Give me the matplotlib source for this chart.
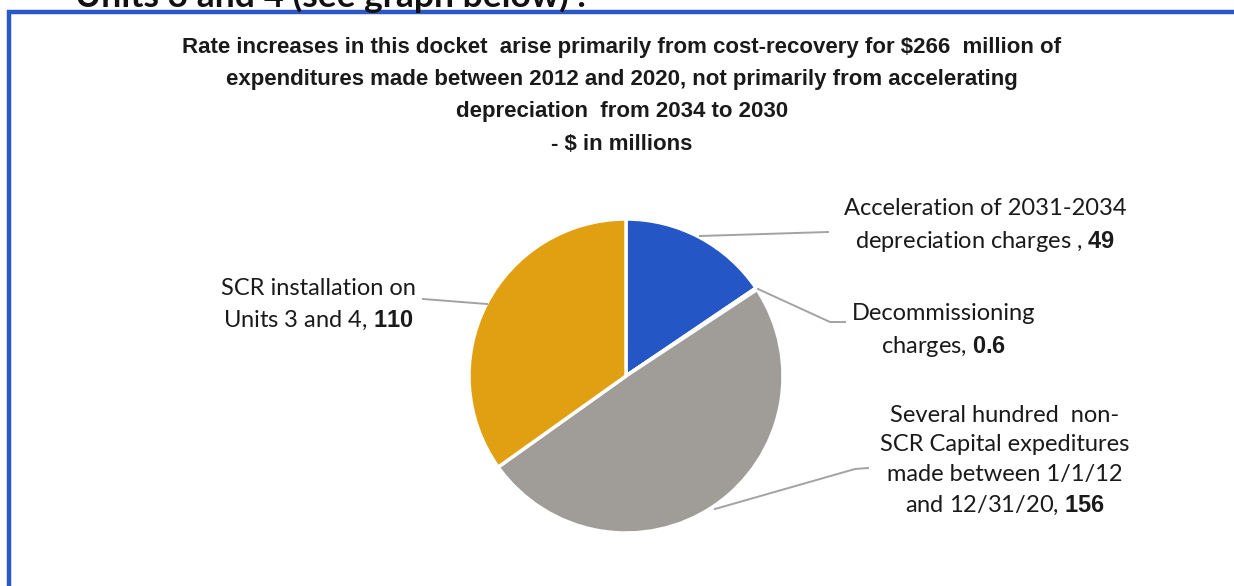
import matplotlib.pyplot as plt
from matplotlib.patches import Rectangle
import numpy as np

plt.rcParams['mathtext.fontset'] = 'custom'
plt.rcParams['mathtext.bf'] = 'Liberation Sans:bold'
plt.rcParams['mathtext.rm'] = 'Lato'

# slices, clockwise from 12 o'clock
categories = ['Acceleration of 2031-2034 depreciation charges',
              'Decommissioning charges',
              'Several hundred non-SCR Capital expeditures made between 1/1/12 and 12/31/20',
              'SCR installation on Units 3 and 4']
values = [49, 0.6, 156, 110]
colors = ['#2456c6', '#a5a29c', '#a09d98', '#e1a012']

title = ('Rate increases in this docket  arise primarily from cost-recovery for $266  million of\n'
         'expenditures made between 2012 and 2020, not primarily from accelerating\n'
         'depreciation  from 2034 to 2030\n'
         '- $ in millions')

W, H = 1234, 586
def Y(y):
    return H - y

fig = plt.figure(figsize=(W / 100, H / 100), dpi=100)
fig.patch.set_facecolor('white')
ax = fig.add_axes([0, 0, 1, 1])

ax.pie(values, colors=colors, startangle=90, counterclock=False,
       center=(626, Y(376)), radius=157,
       wedgeprops=dict(edgecolor='white', linewidth=2.5))
ax.set_xlim(0, W)
ax.set_ylim(0, H)
ax.set_aspect('equal')
ax.axis('off')

# frame of the document box
ax.add_patch(Rectangle((8.5, -20), W + 20, Y(11.5) + 20, fill=False,
                       edgecolor='#2a58c8', lw=3.2, clip_on=True))

# text above the box (cut off by the page edge)
ax.text(75, Y(7), 'Units 3 and 4 (see graph below) .', fontsize=25.5, fontweight='bold',
        family=['Lato'], ha='left', va='baseline', color='#111111')

title_font = ['Liberation Sans Narrow', 'Liberation Sans']
ax.text(622, Y(37), title.replace('$', r'\$'), fontsize=16, fontweight='bold',
        family=title_font, ha='center', va='top', linespacing=1.7, color='#1a1a1a')

lab = dict(fontsize=17, family=['Lato'], color='#1a1a1a', linespacing=1.5)
ax.text(985, Y(226), 'Acceleration of 2031-2034\ndepreciation charges , $\\mathbf{49}$',
        ha='center', va='center', **lab)
ax.text(944, Y(331), 'Decommissioning\ncharges, $\\mathbf{0.6}$',
        ha='center', va='center', **lab)
ax.text(1005, Y(461), 'Several hundred  non-\nSCR Capital expeditures\nmade between 1/1/12\nand 12/31/20, $\\mathbf{156}$',
        ha='center', va='center', **lab)
ax.text(318, Y(305), 'SCR installation on\nUnits 3 and 4, $\\mathbf{110}$',
        ha='center', va='center', **lab)

# leader lines
lc = dict(color='#a3a3a3', lw=1.4)
ax.plot([700, 828], [Y(236), Y(232)], **lc)
ax.plot([758, 830, 845], [Y(289), Y(322), Y(322)], **lc)
ax.plot([715, 855, 868], [Y(509), Y(469), Y(468)], **lc)
ax.plot([423, 487], [Y(299), Y(304)], **lc)

fig.savefig('out.png', dpi=100, facecolor='white')
